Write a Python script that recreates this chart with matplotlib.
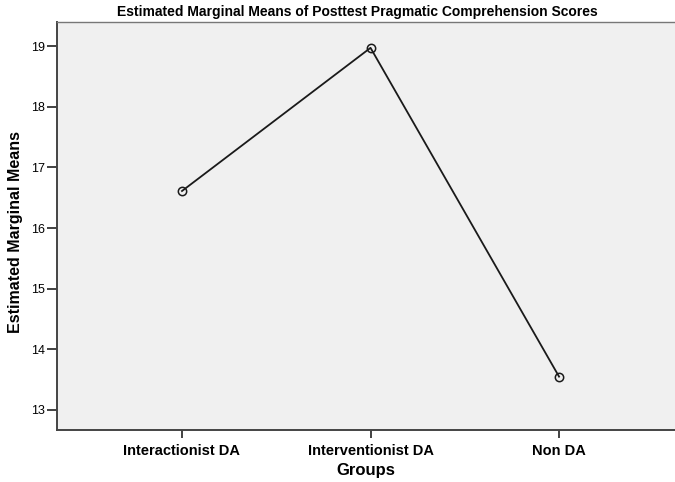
import matplotlib
matplotlib.use("Agg")
import matplotlib.pyplot as plt
import numpy as np

groups = ["Interactionist DA", "Interventionist DA", "Non DA"]
means = [16.61, 18.97, 13.55]
yticks = [13, 14, 15, 16, 17, 18, 19]

plt.rcParams['font.family'] = ['Liberation Sans', 'DejaVu Sans']

fig = plt.figure(figsize=(6.75, 4.82), dpi=100)
ax = fig.add_axes([57/675, 52/482, 1 - 57/675, 408/482])
ax.set_facecolor('#f0f0f0')

x = np.arange(len(groups))
ax.plot(x, means, color='#1a1a1a', lw=1.3, marker='o', ms=6,
        mfc='none', mec='#1a1a1a', mew=1.1)

ax.set_xlim(-0.663, 2.615)
ax.set_ylim(12.67, 19.396)
ax.set_xticks(x)
ax.set_xticklabels(groups, fontsize=10.5, fontweight='bold')
ax.set_yticks(yticks)
ax.set_yticklabels([str(v) for v in yticks], fontsize=9)
ax.tick_params(axis='x', length=6, width=1.3, color='#333333', pad=4)
ax.tick_params(axis='y', length=7, width=1.3, color='#333333', pad=1.5)

for s in ['left', 'bottom']:
    ax.spines[s].set_color('#444444')
    ax.spines[s].set_linewidth(1.4)
ax.spines['top'].set_color('#777777')
ax.spines['top'].set_linewidth(1.0)
ax.spines['right'].set_visible(False)

ax.set_xlabel("Groups", fontsize=12, fontweight='bold', labelpad=4)
ax.set_ylabel("Estimated Marginal Means", fontsize=11.5, fontweight='bold')
ax.yaxis.set_label_coords(-0.055, 0.485)
fig.text(0.53, 0.975, "Estimated Marginal Means of Posttest Pragmatic Comprehension Scores",
         ha='center', va='center', fontsize=10, fontweight='bold')

fig.savefig("out.png", dpi=100)
